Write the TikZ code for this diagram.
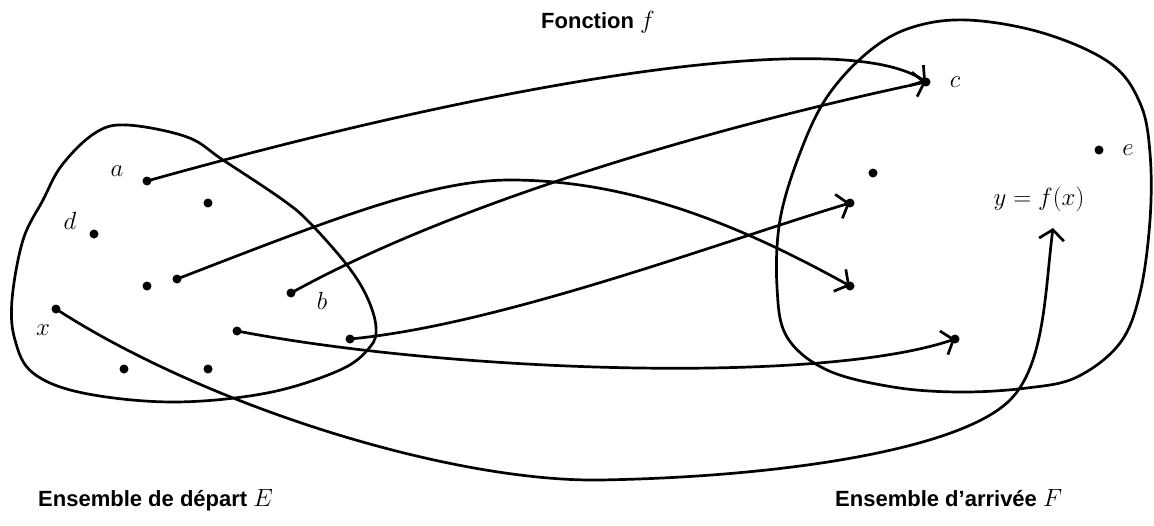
\documentclass[tikz,border=0pt]{standalone}
\usepackage{fontspec}
\setsansfont{Liberation Sans}
\usetikzlibrary{arrows.meta}
\begin{document}
\begin{tikzpicture}[x=1pt,y=-1pt,
  setline/.style={line width=2.7pt, line join=round},
  map/.style={line width=2.7pt, -{Straight Barb[length=10pt,width=25pt,line width=2.7pt]}},
  dot/.style={fill=black},
  lab/.style={font=\fontsize{28}{32}\selectfont, inner sep=0pt},
  ttl/.style={font=\sffamily\bfseries\fontsize{22}{26}\selectfont, inner sep=0pt}]
\useasboundingbox (0,0) rectangle (1154,525);

% sets
\draw[setline] plot[smooth cycle, tension=0.6] coordinates {
  (127,125) (187,137) (223,160) (283,200) (310,223) (347,265) (367,297)
  (376,327) (370,347) (340,370) (267,393) (173,402) (83,393) (33,373)
  (15,340) (12,300) (23,240) (43,200) (62,165) (95,133)};
\draw[setline] plot[smooth cycle, tension=0.6] coordinates {
  (967,20) (1043,33) (1110,63) (1140,103) (1150,153) (1150,220) (1140,293)
  (1120,343) (1077,377) (1027,388) (960,392) (893,387) (827,370) (787,337)
  (777,287) (780,220) (800,153) (827,97) (867,53) (910,28)};

% points of E
\coordinate (a) at (147,181);
\coordinate (p1) at (208,203);
\coordinate (d) at (94,234);
\coordinate (p2) at (147,286);
\coordinate (p3) at (177,279);
\coordinate (b) at (291,293);
\coordinate (x) at (56,309);
\coordinate (p4) at (237,331);
\coordinate (p5) at (350,339);
\coordinate (p6) at (124,369);
\coordinate (p7) at (208,369);
% points of F
\coordinate (c) at (926,82);
\coordinate (e) at (1099,150);
\coordinate (q1) at (873,173);
\coordinate (q2) at (850,203);
\coordinate (q3) at (850,286);
\coordinate (q4) at (955,339);
\coordinate (fx) at (1053,228);

% labels
\node[lab] (la) at (117,171) {$a$};
\node[lab] (ld) at (70,221) {$d$};
\node[lab] (lx) at (43,330) {$x$};
\node[lab] (lb) at (322,301) {$b$};
\node[lab] (lc) at (955,82) {$c$};
\node[lab] (le) at (1128,150) {$e$};
\node[lab] (ly) at (1039,199) {$y=f(x)$};

% arrows
\draw[map] (a) .. controls (547,69) and (850,30) .. (c);
\draw[map] (b) .. controls (450,205) and (700,130) .. (c);
\draw[map] (p3) .. controls (330,220) and (430,180) .. (510,180)
               .. controls (630,180) and (740,225) .. (q3);
\draw[map] (p5) .. controls (500,325) and (720,242) .. (q2);
\draw[map] (p4) .. controls (450,372) and (820,385) .. (q4);
\draw[map] (x) .. controls (206,406) and (450,482) .. (600,480)
              .. controls (780,477) and (960,450) .. (1010,400)
              .. controls (1045,365) and (1045,290) .. (fx);

% dots
\foreach \p in {a,p1,d,p2,p3,b,x,p4,p5,p6,p7,c,e,q1,q2,q3,q4}
  \fill[dot] (\p) circle (4.5);

% titles
\node[ttl, anchor=base west] (tE) at (38,506) {Ensemble de départ {\rmfamily\mdseries\fontsize{25}{28}\selectfont$E$}};
\node[ttl, anchor=base west] (tF) at (835,506) {Ensemble d’arrivée {\rmfamily\mdseries\fontsize{25}{28}\selectfont$F$}};
\node[ttl, anchor=base] (tf) at (598,28) {Fonction {\rmfamily\mdseries\fontsize{25}{28}\selectfont$f$}};
\end{tikzpicture}
\end{document}
